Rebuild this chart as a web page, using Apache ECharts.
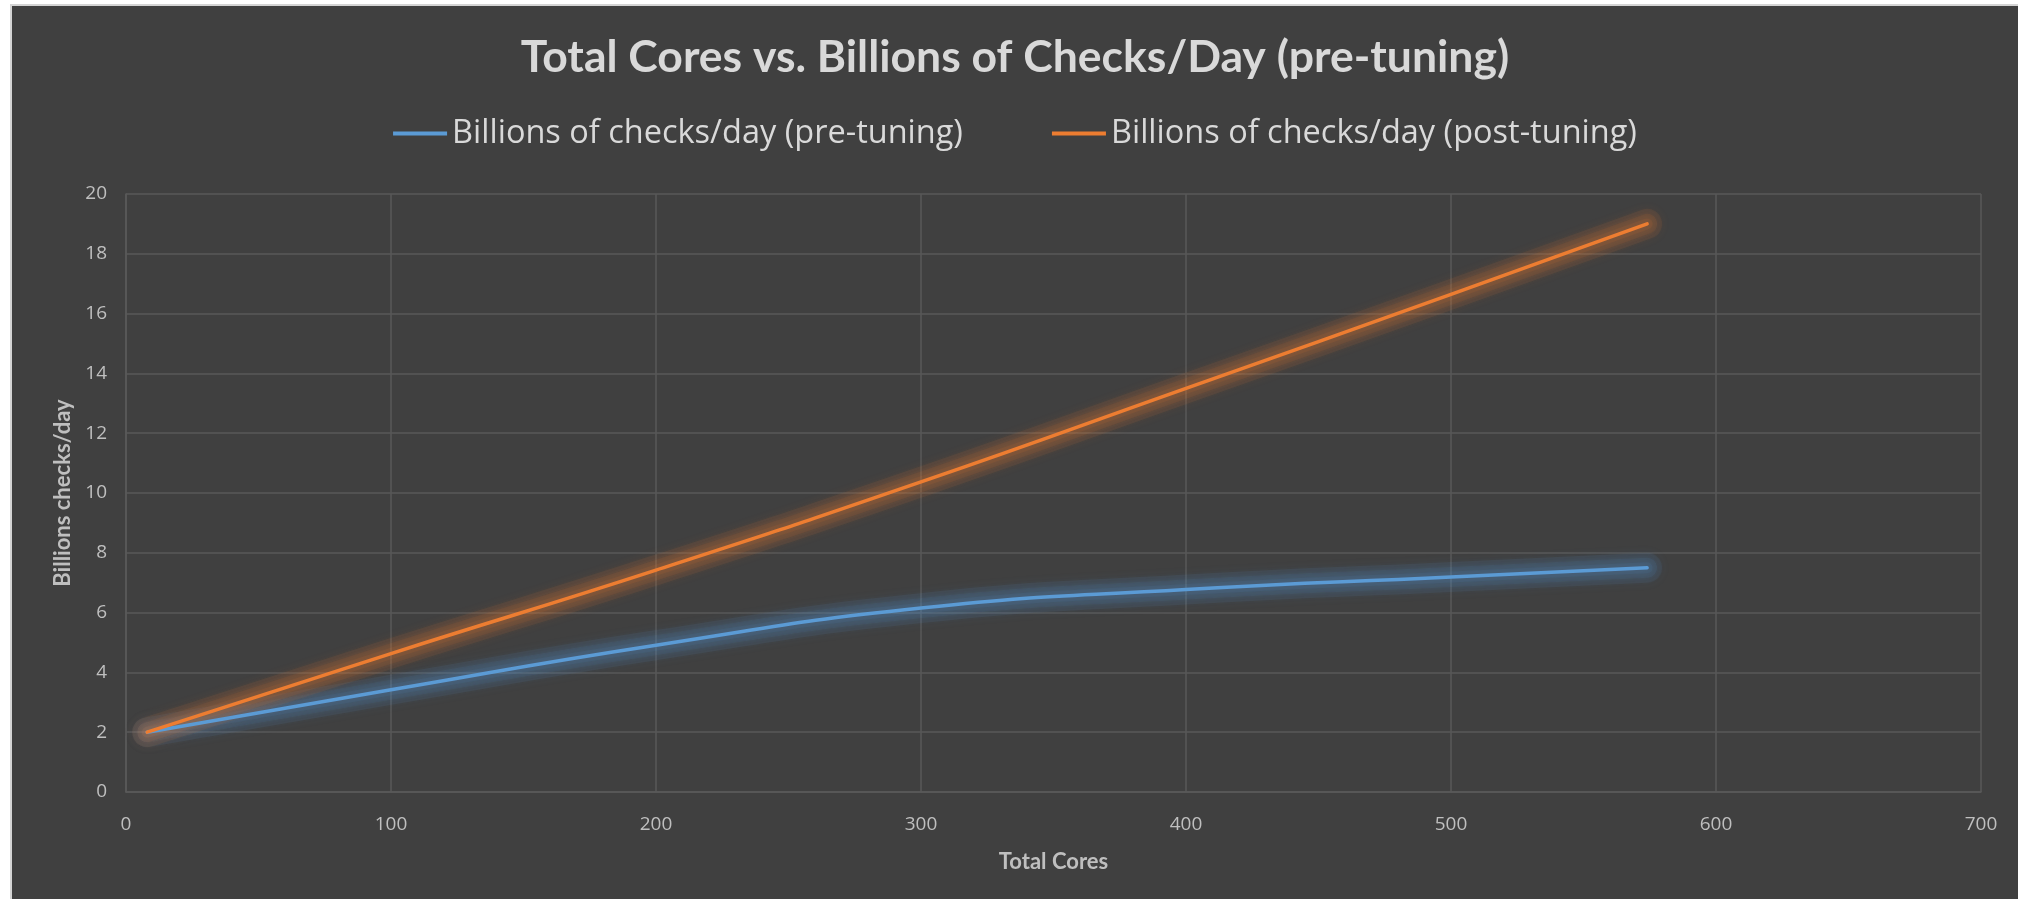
<!DOCTYPE html>
<html>
<head>
<meta charset="utf-8">
<title>Total Cores vs. Billions of Checks/Day</title>
<script src="https://cdn.jsdelivr.net/npm/echarts@6/dist/echarts.min.js"></script>
<style>
  html, body { margin: 0; padding: 0; background: #ffffff; width: 2018px; height: 899px; overflow: hidden; }
  #frame { position: absolute; left: 10px; top: 4px; right: 0; bottom: 0; background: #d4d4d4; padding: 2px 0 0 2px; box-sizing: border-box; }
  #chart { width: 100%; height: 100%; background: #404040; }
</style>
</head>
<body>
<div id="frame"><div id="chart"></div></div>
<script>
// Total cores (x) sampled along the run
const cores = [8, 100, 200, 300, 400, 500, 574];
// Throughput in billions of checks per day
const preTuning = [2, 3.42, 4.91, 6.15, 6.77, 7.19, 7.5];
const postTuning = [2, 4.63, 7.42, 10.37, 13.5, 16.64, 19];

const seriesNames = ['Billions of checks/day (pre-tuning)', 'Billions of checks/day (post-tuning)'];
const chartTitle = 'Total Cores vs. Billions of Checks/Day (pre-tuning)';
const xTitle = 'Total Cores';
const yTitle = 'Billions checks/day';

const BLUE = '#5b9bd5';
const ORANGE = '#ed7d31';
const TITLE_FONT = 'Lato, "Open Sans", sans-serif';
const BODY_FONT = '"Open Sans", Lato, sans-serif';

const pairs = (xs, ys) => xs.map((x, i) => [x, ys[i]]);
const SMOOTH = 0.5;

const chart = echarts.init(document.getElementById('chart'), null, { renderer: 'canvas' });

// Soft halo beneath each line: a few wide, faint, blurred strokes stacked
function glowSeries(values, rgb) {
  return [30, 20, 11].map(w => ({
    name: 'glow',
    type: 'line',
    data: pairs(cores, values),
    smooth: SMOOTH,
    showSymbol: false,
    symbol: 'none',
    silent: true,
    z: 1,
    lineStyle: {
      width: w,
      cap: 'round',
      join: 'round',
      color: 'rgba(' + rgb + ',0.08)',
      shadowColor: 'rgba(' + rgb + ',1)',
      shadowBlur: 10
    },
    tooltip: { show: false },
    emphasis: { disabled: true }
  }));
}

function lineSeries(name, values, color) {
  return {
    name: name,
    type: 'line',
    data: pairs(cores, values),
    smooth: SMOOTH,
    showSymbol: false,
    symbol: 'none',
    color: color,
    z: 3,
    lineStyle: { width: 3.5, color: color, cap: 'round', join: 'round' },
    emphasis: { disabled: true }
  };
}

chart.setOption({
  backgroundColor: '#404040',
  animation: false,
  textStyle: { fontFamily: BODY_FONT },
  title: {
    text: chartTitle,
    left: 'center',
    top: 29,
    padding: 0,
    textStyle: { color: '#d9d9d9', fontSize: 44.5, fontWeight: 'bold', fontFamily: TITLE_FONT }
  },
  legend: {
    data: seriesNames.map(n => ({ name: n, icon: 'rect' })),
    left: 'center',
    top: 111,
    padding: 0,
    itemWidth: 54,
    itemHeight: 4,
    itemGap: 89,
    textStyle: { color: '#d9d9d9', fontSize: 32.5, fontFamily: BODY_FONT }
  },
  grid: { left: 114, right: 37, top: 188, bottom: 107, containLabel: false },
  xAxis: {
    type: 'value',
    min: 0,
    max: 700,
    interval: 100,
    name: xTitle,
    nameLocation: 'middle',
    nameGap: 59,
    nameTextStyle: { color: '#bfbfbf', fontSize: 22, fontWeight: 'bold', fontFamily: TITLE_FONT },
    axisLine: { show: true, lineStyle: { color: '#5a5a5a', width: 1.5 } },
    axisTick: { show: false },
    axisLabel: { color: '#bfbfbf', fontSize: 19, margin: 23, fontFamily: BODY_FONT },
    splitLine: { show: true, lineStyle: { color: '#585858', width: 1.5 } }
  },
  yAxis: {
    type: 'value',
    min: 0,
    max: 20,
    interval: 2,
    name: yTitle,
    nameLocation: 'middle',
    nameRotate: 90,
    nameGap: 52,
    nameTextStyle: { color: '#bfbfbf', fontSize: 22, fontWeight: 'bold', fontFamily: TITLE_FONT },
    axisLine: { show: true, lineStyle: { color: '#5a5a5a', width: 1.5 } },
    axisTick: { show: false },
    axisLabel: { color: '#bfbfbf', fontSize: 19, margin: 19, fontFamily: BODY_FONT },
    splitLine: { show: true, lineStyle: { color: '#585858', width: 1.5 } }
  },
  series: [
    ...glowSeries(preTuning, '91,155,213'),
    ...glowSeries(postTuning, '237,125,49'),
    lineSeries(seriesNames[0], preTuning, BLUE),
    lineSeries(seriesNames[1], postTuning, ORANGE)
  ]
});
</script>
</body>
</html>
